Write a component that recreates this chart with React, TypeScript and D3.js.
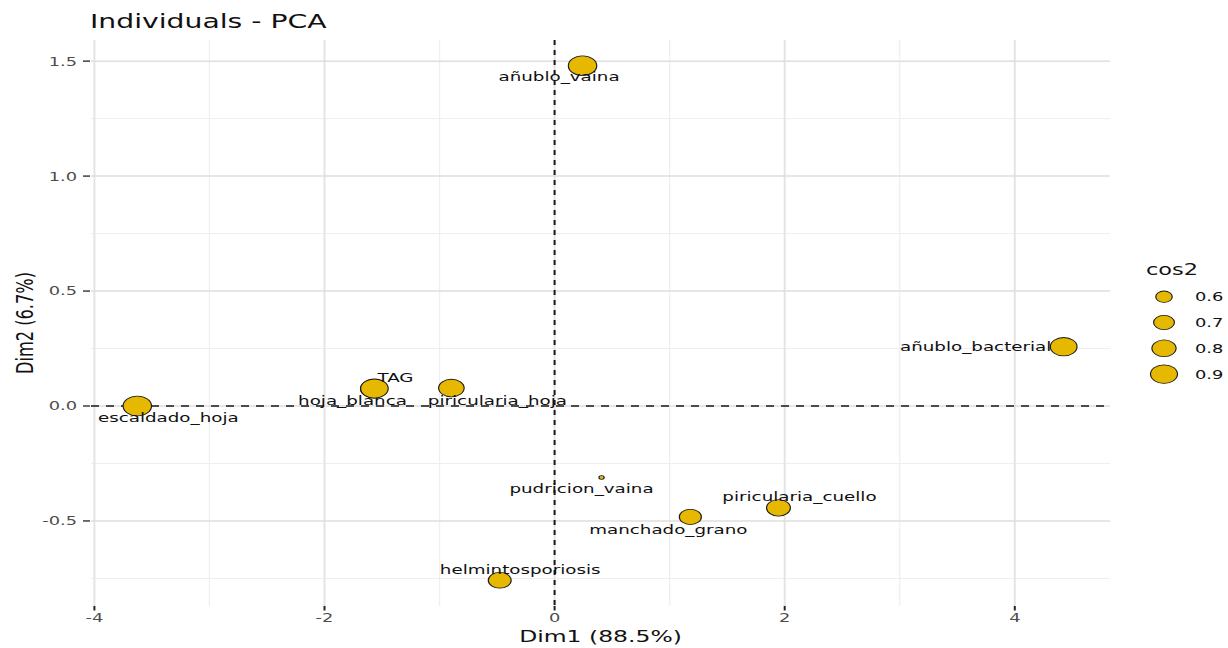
import React from "react";
import * as d3 from "d3";

// Individuals on the first two principal components
const names = [
  "añublo_vaina",
  "añublo_bacterial",
  "hoja_blanca",
  "TAG",
  "piricularia_hoja",
  "escaldado_hoja",
  "pudricion_vaina",
  "manchado_grano",
  "piricularia_cuello",
  "helmintosporiosis",
];
const dim1 = [0.243, 4.425, -1.57, -1.566, -0.897, -3.627, 0.408, 1.18, 1.946, -0.477];
const dim2 = [1.48, 0.258, 0.075, 0.076, 0.078, 0.0, -0.311, -0.4825, -0.443, -0.758];
const cos2 = [0.955, 0.888, 0.9, 0.921, 0.846, 0.955, 0.49, 0.735, 0.788, 0.76];

// Label placement (pixel offsets from each point, as a repel layout would give)
const labelDx = [-23.5, -88, -21.5, 21, 46, 31, -20, -22, 21, 20.5];
const labelDy = [10.5, -0.5, 12, -11, 12, 11, 11, 12.5, -11, -11];

const xMajor = [-4, -2, 0, 2, 4];
const xMinor = [-3, -1, 1, 3];
const xTickLabels = ["-4", "-2", "0", "2", "4"];
const yMajor = [-0.5, 0, 0.5, 1, 1.5];
const yMinor = [-0.75, -0.25, 0.25, 0.75, 1.25];
const yTickLabels = ["-0.5", "0.0", "0.5", "1.0", "1.5"];
const legendBreaks = [0.6, 0.7, 0.8, 0.9];
const legendLabels = ["0.6", "0.7", "0.8", "0.9"];

const W = 1228;
const H = 648;
const SX = 1.45; // horizontal glyph stretch of the output
const FONT = "DejaVu Sans, Verdana, sans-serif";
const FILL = "#E7B800";

const panel = { left: 91, right: 1110, top: 40, bottom: 606 };

function expand(ext: [number, number], m = 0.05): [number, number] {
  const r = ext[1] - ext[0];
  return [ext[0] - r * m, ext[1] + r * m];
}

const x = d3
  .scaleLinear()
  .domain(expand(d3.extent(dim1) as [number, number]))
  .range([panel.left, panel.right]);
const y = d3
  .scaleLinear()
  .domain(expand(d3.extent(dim2) as [number, number]))
  .range([panel.bottom, panel.top]);

const sizeT = d3
  .scaleLinear()
  .domain(d3.extent(cos2) as [number, number])
  .range([0, 1]);
const R_MIN = 2.2;
const R_MAX = 10.2;
const radius = (v: number) => R_MIN + Math.sqrt(Math.max(0, sizeT(v))) * (R_MAX - R_MIN);

function SText({
  x0,
  y0,
  size,
  children,
  anchor = "middle",
  fill = "#1a1a1a",
  dy = "0.36em",
  rotate = 0,
}: {
  x0: number;
  y0: number;
  size: number;
  children: React.ReactNode;
  anchor?: string;
  fill?: string;
  dy?: string;
  rotate?: number;
}) {
  return (
    <text
      transform={`translate(${x0},${y0}) scale(${SX},1)${rotate ? ` rotate(${rotate})` : ""}`}
      textAnchor={anchor}
      dy={dy}
      fontSize={size}
      fontFamily={FONT}
      fill={fill}
    >
      {children}
    </text>
  );
}

function Dot({ cx, cy, r }: { cx: number; cy: number; r: number }) {
  return (
    <g transform={`translate(${cx},${cy}) scale(${SX},1)`}>
      <circle r={r - 0.4} fill={FILL} stroke="#1a1a1a" strokeWidth={0.8} />
    </g>
  );
}

export default function App() {
  const idx = d3.range(names.length);
  return (
    <svg
      width={W}
      height={H}
      viewBox={`0 0 ${W} ${H}`}
      style={{ position: "absolute", left: 0, top: 0, background: "#fff" }}
    >
      {/* minor grid */}
      {xMinor.map((v) => (
        <line key={"xm" + v} x1={x(v)} x2={x(v)} y1={panel.top} y2={panel.bottom} stroke="#efefef" strokeWidth={1.3} />
      ))}
      {yMinor.map((v) => (
        <line key={"ym" + v} x1={panel.left} x2={panel.right} y1={y(v)} y2={y(v)} stroke="#eeeeee" strokeWidth={1} />
      ))}
      {/* major grid */}
      {xMajor.map((v) => (
        <line key={"xM" + v} x1={x(v)} x2={x(v)} y1={panel.top} y2={panel.bottom} stroke="#e4e4e4" strokeWidth={2} />
      ))}
      {yMajor.map((v) => (
        <line key={"yM" + v} x1={panel.left} x2={panel.right} y1={y(v)} y2={y(v)} stroke="#dedede" strokeWidth={1.5} />
      ))}

      {/* reference lines through the origin */}
      <line x1={panel.left} x2={panel.right} y1={y(0)} y2={y(0)} stroke="#1a1a1a" strokeWidth={1.4} strokeDasharray="8,7" />
      <line x1={x(0)} x2={x(0)} y1={panel.top} y2={panel.bottom} stroke="#1a1a1a" strokeWidth={2} strokeDasharray="5,5" />

      {/* points */}
      {idx.map((i) => (
        <Dot key={"p" + i} cx={x(dim1[i])} cy={y(dim2[i])} r={radius(cos2[i])} />
      ))}

      {/* point labels */}
      {idx.map((i) => (
        <SText key={"l" + i} x0={x(dim1[i]) + labelDx[i]} y0={y(dim2[i]) + labelDy[i]} size={12.6} fill="#111">
          {names[i]}
        </SText>
      ))}

      {/* axes ticks */}
      {xMajor.map((v, i) => (
        <g key={"xt" + v}>
          <line x1={x(v)} x2={x(v)} y1={panel.bottom} y2={panel.bottom + 4.5} stroke="#222" strokeWidth={2} />
          <SText x0={x(v)} y0={618} size={12.3} fill="#4d4d4d">
            {xTickLabels[i]}
          </SText>
        </g>
      ))}
      {yMajor.map((v, i) => (
        <g key={"yt" + v}>
          <line x1={panel.left - 8} x2={panel.left - 1} y1={y(v)} y2={y(v)} stroke="#222" strokeWidth={1.3} />
          <SText x0={77} y0={y(v)} size={12.3} anchor="end" fill="#4d4d4d">
            {yTickLabels[i]}
          </SText>
        </g>
      ))}

      {/* titles */}
      <SText x0={90} y0={28} size={19.5} anchor="start" dy="0" fill="#111">
        Individuals - PCA
      </SText>
      <SText x0={(panel.left + panel.right) / 2} y0={642} size={16.2} dy="0" fill="#111">
        Dim1 (88.5%)
      </SText>
      <SText x0={33} y0={(panel.top + panel.bottom) / 2} size={16.2} dy="0" rotate={-90} fill="#111">
        Dim2 (6.7%)
      </SText>

      {/* size legend */}
      <SText x0={1146} y0={275} size={15.5} anchor="start" dy="0" fill="#111">
        cos2
      </SText>
      {legendBreaks.map((v, i) => {
        const cy = 296.7 + i * 25.8;
        return (
          <g key={"lg" + v}>
            <Dot cx={1164} cy={cy} r={radius(v)} />
            <SText x0={1195} y0={cy} size={12.3} anchor="start" fill="#111">
              {legendLabels[i]}
            </SText>
          </g>
        );
      })}
    </svg>
  );
}
